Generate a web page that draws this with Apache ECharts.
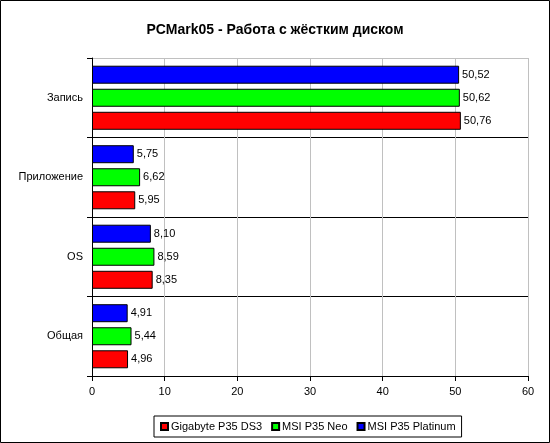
<!DOCTYPE html>
<html>
<head>
<meta charset="utf-8">
<script src="https://cdn.jsdelivr.net/npm/echarts@6/dist/echarts.min.js"></script>
<style>
html, body { margin: 0; padding: 0; background: #fff; }
#chart { width: 550px; height: 443px; }
</style>
</head>
<body>
<div id="chart"></div>
<script>
// categories listed bottom to top (category axis starts at the bottom)
const categories = ['Общая', 'OS', 'Приложение', 'Запись']
const seriesNames = ['Gigabyte P35 DS3', 'MSI P35 Neo', 'MSI P35 Platinum']
const gigabyte = [4.96, 8.35, 5.95, 50.76]
const msiNeo = [5.44, 8.59, 6.62, 50.62]
const msiPlatinum = [4.91, 8.10, 5.75, 50.52]
const colors = ['#ff0000', '#00ff00', '#0000ff']

const font = '"Liberation Sans", Arial, sans-serif'
const chart = echarts.init(document.getElementById('chart'))

const labelOption = {
    show: true,
    position: 'right',
    distance: 3,
    color: '#000',
    fontFamily: font,
    fontSize: 11,
    formatter: p => p.value.toFixed(2).replace('.', ',')
}

// first series is drawn on top of each group, so go Platinum -> Neo -> Gigabyte
const seriesData = [gigabyte, msiNeo, msiPlatinum]
const mySeries = []
for (let i = seriesData.length - 1; i >= 0; i--) {
    mySeries.push({
        name: seriesNames[i],
        type: 'bar',
        data: seriesData[i],
        barWidth: 18,
        barGap: '28%',
        itemStyle: { color: colors[i], borderColor: '#000', borderWidth: 1 },
        label: labelOption
    })
}

chart.setOption({
    animation: false,
    title: {
        text: 'PCMark05 - Работа с жёстким диском',
        left: 'center',
        top: 18,
        textStyle: { fontFamily: font, fontSize: 14, fontWeight: 'bold', color: '#000' }
    },
    legend: {
        data: seriesNames,
        bottom: 6,
        left: 154,
        itemWidth: 7,
        itemHeight: 7,
        itemGap: 9,
        padding: [5, 6, 5, 6],
        borderColor: '#000',
        borderWidth: 1,
        icon: 'rect',
        textStyle: { fontFamily: font, fontSize: 11, color: '#000', padding: [0, 0, 0, -2] }
    },
    grid: {
        top: 58,
        left: 92,
        right: 22,
        bottom: 67
    },
    xAxis: {
        type: 'value',
        min: 0,
        max: 60,
        interval: 10,
        axisLine: { show: true, lineStyle: { color: '#000' } },
        axisTick: { show: true, length: 5, lineStyle: { color: '#000' } },
        axisLabel: { fontFamily: font, fontSize: 11, color: '#000', margin: 10 },
        splitLine: { show: true, lineStyle: { color: '#c0c0c0' } }
    },
    yAxis: {
        type: 'category',
        data: categories,
        axisLine: { show: true, lineStyle: { color: '#000' } },
        axisTick: { show: true, length: 5, lineStyle: { color: '#000' } },
        axisLabel: { fontFamily: font, fontSize: 11, color: '#000', margin: 9 },
        // group separators are black, the top edge of the plot is grey
        splitLine: { show: true, lineStyle: { color: ['#000', '#000', '#000', '#000', '#c0c0c0'] } }
    },
    graphic: [{
        type: 'rect',
        shape: { x: 0.5, y: 0.5, width: 549, height: 442 },
        style: { fill: 'none', stroke: '#000', lineWidth: 1 },
        silent: true
    }],
    series: mySeries
})
</script>
</body>
</html>
